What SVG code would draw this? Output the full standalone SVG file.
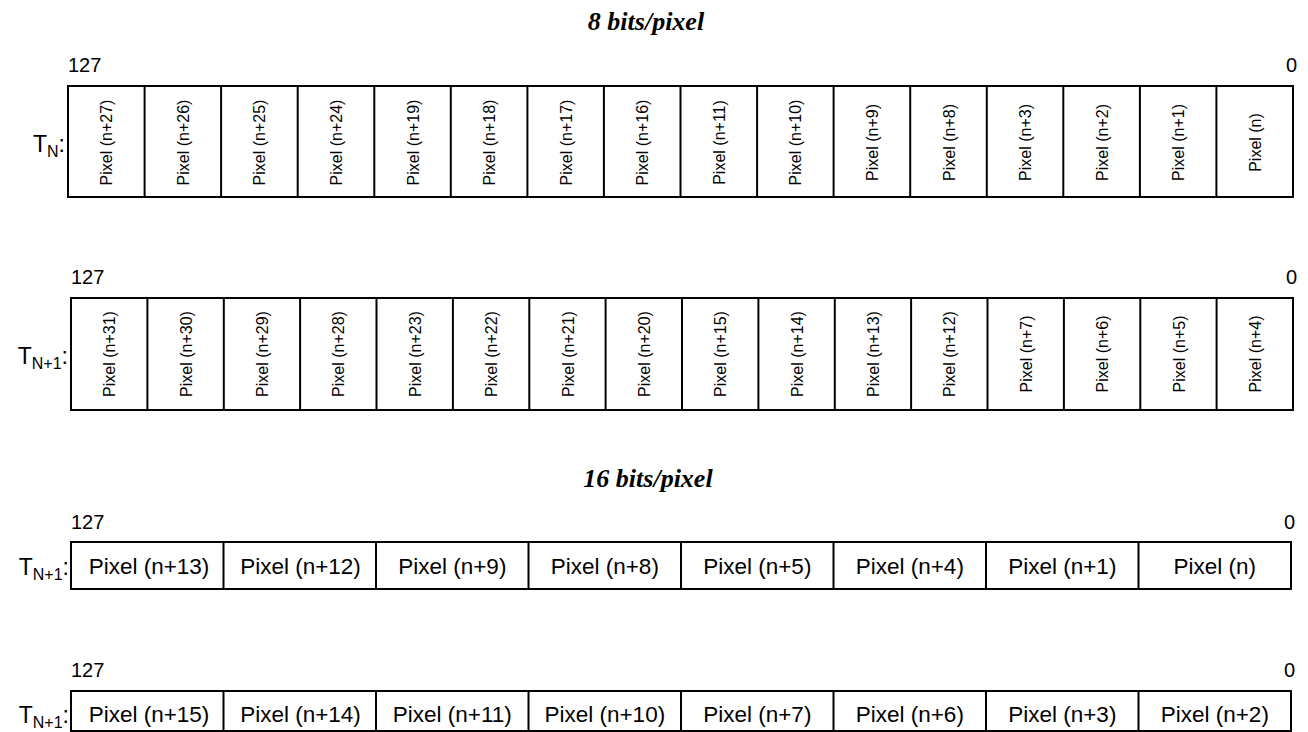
<svg xmlns="http://www.w3.org/2000/svg" width="1308" height="732" viewBox="0 0 1308 732">
<style>
.box{fill:#fff;stroke:#000;stroke-width:2}
.div{stroke:#000;stroke-width:2}
.t{font-family:"Liberation Sans",Arial,sans-serif;fill:#000}
.n{font-size:20px}
.v{font-size:16px;text-anchor:middle}
.h{font-size:22.5px;text-anchor:middle}
.lab{font-size:23px;text-anchor:end}
.sub{font-size:16px}
.title{font-family:"Liberation Serif","Times New Roman",serif;font-weight:bold;font-style:italic;font-size:26px;text-anchor:middle}
</style>
<rect width="1308" height="732" fill="#fff"/>
<text class="title" x="646" y="30">8 bits/pixel</text>
<text class="title" x="648" y="487">16 bits/pixel</text>

<g id="row1">
<text class="t n" x="68" y="72">127</text>
<text class="t n" x="1297" y="72" text-anchor="end">0</text>
<text class="t lab" x="65" y="152">T<tspan class="sub" dy="5">N</tspan><tspan dy="-5">:</tspan></text>
<rect class="box" x="68" y="86" width="1225" height="111"/>
<g class="div">
<line x1="144.6" y1="86" x2="144.6" y2="197"/><line x1="221.1" y1="86" x2="221.1" y2="197"/><line x1="297.7" y1="86" x2="297.7" y2="197"/><line x1="374.3" y1="86" x2="374.3" y2="197"/><line x1="450.8" y1="86" x2="450.8" y2="197"/><line x1="527.4" y1="86" x2="527.4" y2="197"/><line x1="603.9" y1="86" x2="603.9" y2="197"/><line x1="680.5" y1="86" x2="680.5" y2="197"/><line x1="757.1" y1="86" x2="757.1" y2="197"/><line x1="833.6" y1="86" x2="833.6" y2="197"/><line x1="910.2" y1="86" x2="910.2" y2="197"/><line x1="986.8" y1="86" x2="986.8" y2="197"/><line x1="1063.3" y1="86" x2="1063.3" y2="197"/><line x1="1139.9" y1="86" x2="1139.9" y2="197"/><line x1="1216.4" y1="86" x2="1216.4" y2="197"/>
</g>
<g class="t v">
<text transform="translate(112.3,142.5) rotate(-90)">Pixel (n+27)</text>
<text transform="translate(188.8,142.5) rotate(-90)">Pixel (n+26)</text>
<text transform="translate(265.4,142.5) rotate(-90)">Pixel (n+25)</text>
<text transform="translate(342,142.5) rotate(-90)">Pixel (n+24)</text>
<text transform="translate(418.5,142.5) rotate(-90)">Pixel (n+19)</text>
<text transform="translate(495.1,142.5) rotate(-90)">Pixel (n+18)</text>
<text transform="translate(571.7,142.5) rotate(-90)">Pixel (n+17)</text>
<text transform="translate(648.2,142.5) rotate(-90)">Pixel (n+16)</text>
<text transform="translate(724.8,142.5) rotate(-90)">Pixel (n+11)</text>
<text transform="translate(801.4,142.5) rotate(-90)">Pixel (n+10)</text>
<text transform="translate(877.9,142.5) rotate(-90)">Pixel (n+9)</text>
<text transform="translate(954.5,142.5) rotate(-90)">Pixel (n+8)</text>
<text transform="translate(1031,142.5) rotate(-90)">Pixel (n+3)</text>
<text transform="translate(1107.6,142.5) rotate(-90)">Pixel (n+2)</text>
<text transform="translate(1184.2,142.5) rotate(-90)">Pixel (n+1)</text>
<text transform="translate(1260.7,142.5) rotate(-90)">Pixel (n)</text>
</g>
</g>

<g id="row2">
<text class="t n" x="71" y="284">127</text>
<text class="t n" x="1297" y="284" text-anchor="end">0</text>
<text class="t lab" x="68" y="364">T<tspan class="sub" dy="5">N+1</tspan><tspan dy="-5">:</tspan></text>
<rect class="box" x="71" y="298" width="1222" height="112"/>
<g class="div">
<line x1="147.4" y1="298" x2="147.4" y2="410"/><line x1="223.8" y1="298" x2="223.8" y2="410"/><line x1="300.1" y1="298" x2="300.1" y2="410"/><line x1="376.5" y1="298" x2="376.5" y2="410"/><line x1="452.9" y1="298" x2="452.9" y2="410"/><line x1="529.3" y1="298" x2="529.3" y2="410"/><line x1="605.6" y1="298" x2="605.6" y2="410"/><line x1="682" y1="298" x2="682" y2="410"/><line x1="758.4" y1="298" x2="758.4" y2="410"/><line x1="834.8" y1="298" x2="834.8" y2="410"/><line x1="911.1" y1="298" x2="911.1" y2="410"/><line x1="987.5" y1="298" x2="987.5" y2="410"/><line x1="1063.9" y1="298" x2="1063.9" y2="410"/><line x1="1140.3" y1="298" x2="1140.3" y2="410"/><line x1="1216.6" y1="298" x2="1216.6" y2="410"/>
</g>
<g class="t v">
<text transform="translate(115.2,354) rotate(-90)">Pixel (n+31)</text>
<text transform="translate(191.6,354) rotate(-90)">Pixel (n+30)</text>
<text transform="translate(268,354) rotate(-90)">Pixel (n+29)</text>
<text transform="translate(344.3,354) rotate(-90)">Pixel (n+28)</text>
<text transform="translate(420.7,354) rotate(-90)">Pixel (n+23)</text>
<text transform="translate(497.1,354) rotate(-90)">Pixel (n+22)</text>
<text transform="translate(573.5,354) rotate(-90)">Pixel (n+21)</text>
<text transform="translate(649.8,354) rotate(-90)">Pixel (n+20)</text>
<text transform="translate(726.2,354) rotate(-90)">Pixel (n+15)</text>
<text transform="translate(802.6,354) rotate(-90)">Pixel (n+14)</text>
<text transform="translate(879,354) rotate(-90)">Pixel (n+13)</text>
<text transform="translate(955.3,354) rotate(-90)">Pixel (n+12)</text>
<text transform="translate(1031.7,354) rotate(-90)">Pixel (n+7)</text>
<text transform="translate(1108.1,354) rotate(-90)">Pixel (n+6)</text>
<text transform="translate(1184.5,354) rotate(-90)">Pixel (n+5)</text>
<text transform="translate(1260.8,354) rotate(-90)">Pixel (n+4)</text>
</g>
</g>

<g id="row3">
<text class="t n" x="71" y="529">127</text>
<text class="t n" x="1295" y="529" text-anchor="end">0</text>
<text class="t lab" x="69" y="575">T<tspan class="sub" dy="5">N+1</tspan><tspan dy="-5">:</tspan></text>
<rect class="box" x="71" y="542" width="1220" height="47"/>
<g class="div">
<line x1="223.5" y1="542" x2="223.5" y2="589"/><line x1="376" y1="542" x2="376" y2="589"/><line x1="528.5" y1="542" x2="528.5" y2="589"/><line x1="681" y1="542" x2="681" y2="589"/><line x1="833.5" y1="542" x2="833.5" y2="589"/><line x1="986" y1="542" x2="986" y2="589"/><line x1="1138.5" y1="542" x2="1138.5" y2="589"/>
</g>
<g class="t h">
<text x="149" y="574">Pixel (n+13)</text>
<text x="300.5" y="574">Pixel (n+12)</text>
<text x="452.3" y="574">Pixel (n+9)</text>
<text x="604.8" y="574">Pixel (n+8)</text>
<text x="757.3" y="574">Pixel (n+5)</text>
<text x="909.8" y="574">Pixel (n+4)</text>
<text x="1062.3" y="574">Pixel (n+1)</text>
<text x="1214.8" y="574">Pixel (n)</text>
</g>
</g>

<g id="row4">
<text class="t n" x="71" y="677">127</text>
<text class="t n" x="1295" y="677" text-anchor="end">0</text>
<text class="t lab" x="69" y="723">T<tspan class="sub" dy="5">N+1</tspan><tspan dy="-5">:</tspan></text>
<rect class="box" x="71" y="691" width="1220" height="40"/>
<g class="div">
<line x1="223.5" y1="691" x2="223.5" y2="731"/><line x1="376" y1="691" x2="376" y2="731"/><line x1="528.5" y1="691" x2="528.5" y2="731"/><line x1="681" y1="691" x2="681" y2="731"/><line x1="833.5" y1="691" x2="833.5" y2="731"/><line x1="986" y1="691" x2="986" y2="731"/><line x1="1138.5" y1="691" x2="1138.5" y2="731"/>
</g>
<g class="t h">
<text x="149" y="722">Pixel (n+15)</text>
<text x="300.5" y="722">Pixel (n+14)</text>
<text x="452.3" y="722">Pixel (n+11)</text>
<text x="604.8" y="722">Pixel (n+10)</text>
<text x="757.3" y="722">Pixel (n+7)</text>
<text x="909.8" y="722">Pixel (n+6)</text>
<text x="1062.3" y="722">Pixel (n+3)</text>
<text x="1214.8" y="722">Pixel (n+2)</text>
</g>
</g>
</svg>
